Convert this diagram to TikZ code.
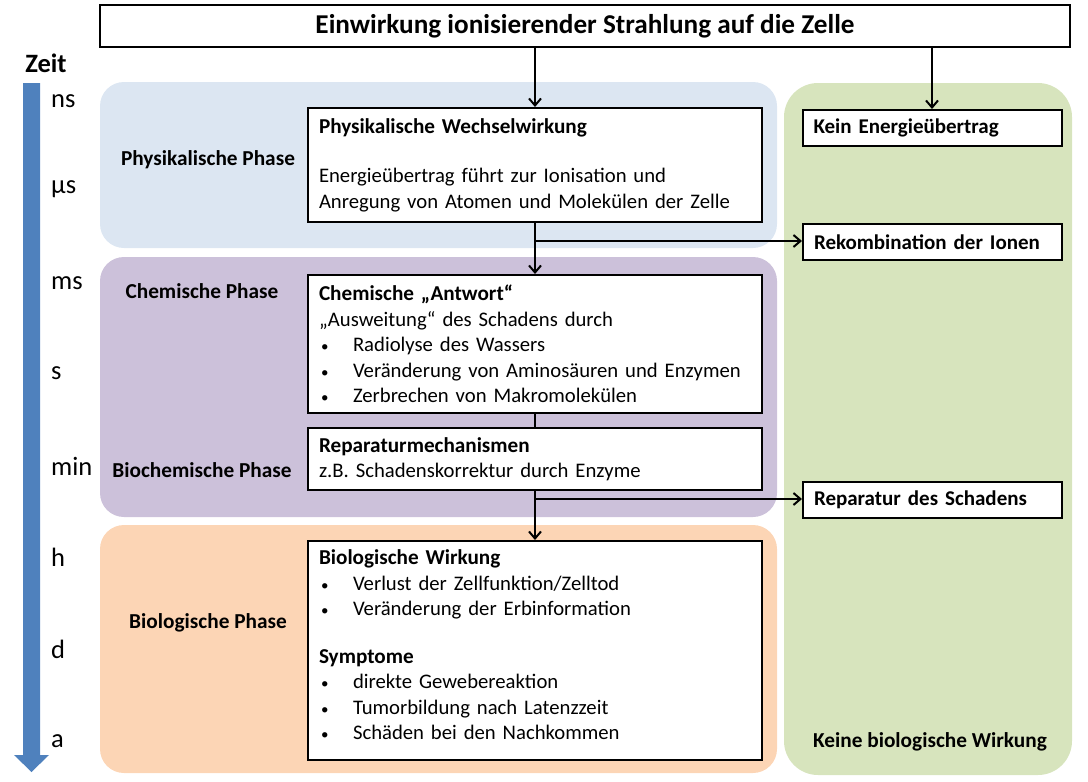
\documentclass[tikz,border=0pt]{standalone}
\usepackage{fontspec}
\setmainfont{Carlito}
\usetikzlibrary{arrows.meta}
\definecolor{physbg}{HTML}{DCE6F2}
\definecolor{chembg}{HTML}{CCC1DA}
\definecolor{biobg}{HTML}{FCD5B5}
\definecolor{greenbg}{HTML}{D7E4BD}
\definecolor{timeblue}{HTML}{4F81BD}
\newcommand\bul{\makebox[34pt][l]{\hspace{2pt}{\fontsize{15}{15}\selectfont •}}}
\newcommand\bt[1]{{\fontsize{21.2}{25.5}\selectfont\bfseries #1}}
\begin{document}
\begin{tikzpicture}[x=1pt,y=-1pt,
  box/.style={draw=black, line width=2pt, fill=white, inner xsep=11pt, inner ysep=0pt,
    align=left, text width=432pt, font=\fontsize{20.7}{25.5}\selectfont},
  sidebox/.style={draw=black, line width=2pt, fill=white, minimum width=259pt, minimum height=36pt,
    inner xsep=11pt, text width=237pt, align=left, font=\fontsize{21}{24}\selectfont\bfseries},
  phase/.style={font=\fontsize{21.3}{24}\selectfont\bfseries, inner sep=0pt},
  tlabel/.style={anchor=west, inner sep=0pt, font=\fontsize{26.5}{30}\selectfont},
  arr/.style={line width=2pt, -{Straight Barb[length=7pt,width=12pt,line width=2pt]}},
  conn/.style={line width=2pt}
]
\useasboundingbox (0,0) rectangle (1088,782);
% background regions
\fill[physbg, rounded corners=24pt] (100,82) rectangle (777,248);
\fill[chembg, rounded corners=24pt] (100,257) rectangle (777,517);
\fill[biobg, rounded corners=24pt] (100,525) rectangle (777,773);
\fill[greenbg, rounded corners=34pt] (784,83) rectangle (1072,775);
% time arrow
\fill[timeblue] (23,83) -- (40,83) -- (40,755) -- (49,755) -- (31.5,772) -- (14,755) -- (23,755) -- cycle;
\node[inner sep=0pt, font=\fontsize{26.5}{30}\selectfont\bfseries] (zeit) at (46,63) {Zeit};
\node[tlabel] (tns) at (51,101) {ns};
\node[tlabel] (tus) at (51,189) {µs};
\node[tlabel] (tms) at (51,283) {ms};
\node[tlabel] (ts) at (51,373) {s};
\node[tlabel] (tmin) at (51,466) {min};
\node[tlabel] (th) at (51,557) {h};
\node[tlabel] (td) at (51,649) {d};
\node[tlabel] (ta) at (51,741) {a};
% top box
\node[draw=black, line width=2.4pt, fill=white, minimum width=970pt, minimum height=42pt,
  font=\fontsize{27.2}{30}\selectfont\bfseries] (top) at (585,26) {Einwirkung ionisierender Strahlung auf die Zelle};
% phase labels
\node[phase] (lphys) at (208,160) {Physikalische Phase};
\node[phase] (lchem) at (202,291) {Chemische Phase};
\node[phase] (lbioc) at (202,470) {Biochemische Phase};
\node[phase] (lbio) at (208,623) {Biologische Phase};
\node[phase] (lkeine) at (930,742) {Keine biologische Wirkung};
% main boxes
\node[box, minimum height=114pt] (phys) at (535,165) {\bt{Physikalische Wechselwirkung}\\[24pt]
  Energieübertrag führt zur Ionisation und\\
  Anregung von Atomen und Molekülen der Zelle};
\node[box, minimum height=138pt] (chem) at (535,344) {\bt{Chemische „Antwort“}\\
  „Ausweitung“ des Schadens durch\\
  \bul Radiolyse des Wassers\\
  \bul Veränderung von Aminosäuren und Enzymen\\
  \bul Zerbrechen von Makromolekülen};
\node[box, minimum height=62pt] (rep) at (535,459) {\bt{Reparaturmechanismen}\\
  z.B. Schadenskorrektur durch Enzyme};
\node[box, minimum height=219pt] (bio) at (535,650.5) {\bt{Biologische Wirkung}\\
  \bul Verlust der Zellfunktion/Zelltod\\
  \bul Veränderung der Erbinformation\\[22pt]
  \bt{Symptome}\\
  \bul direkte Gewebereaktion\\
  \bul Tumorbildung nach Latenzzeit\\
  \bul Schäden bei den Nachkommen\\[-14pt]\mbox{}};
% side boxes
\node[sidebox] (kein) at (932,128) {Kein Energieübertrag};
\node[sidebox] (rek) at (932.5,242) {Rekombination der Ionen};
\node[sidebox] (schad) at (932.5,500) {Reparatur des Schadens};
% connectors
\draw[arr] (top.south -| phys.north) -- (phys.north);
\draw[arr] (top.south -| kein.north) -- (kein.north);
\draw[arr] (phys.south) -- (chem.north);
\coordinate (b1) at (535,241);
\draw[arr] (b1) -- (b1 -| rek.west);
\draw[conn] (chem.south) -- (rep.north);
\draw[arr] (rep.south) -- (bio.north);
\coordinate (b2) at (535,499);
\draw[arr] (b2) -- (b2 -| schad.west);
\end{tikzpicture}
\end{document}
